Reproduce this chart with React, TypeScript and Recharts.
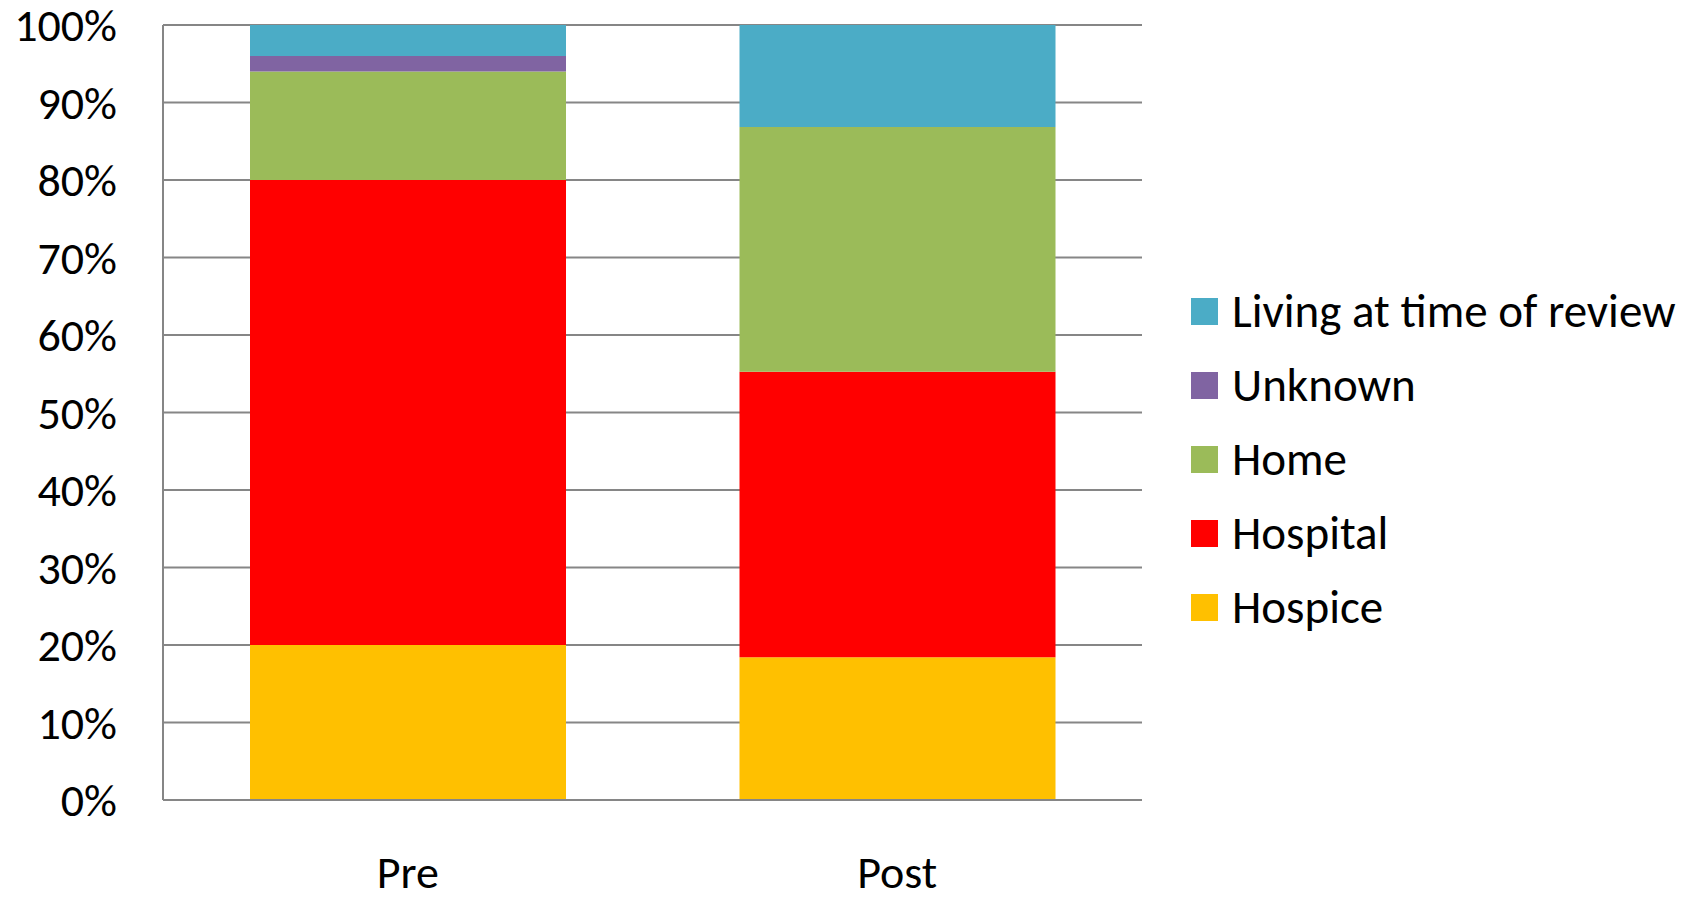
import React from 'react';
import { BarChart, Bar, XAxis, YAxis, CartesianGrid } from 'recharts';

const periods = ['Pre', 'Post'];
const hospice = [20, 18.42];
const hospital = [60, 36.84];
const home = [14, 31.58];
const unknown = [2, 0];
const living = [4, 13.16];
const yTicks = [0, 10, 20, 30, 40, 50, 60, 70, 80, 90, 100];

const series = [
  { key: 'hospice', name: 'Hospice', color: '#FFC000' },
  { key: 'hospital', name: 'Hospital', color: '#FF0000' },
  { key: 'home', name: 'Home', color: '#9BBB59' },
  { key: 'unknown', name: 'Unknown', color: '#8064A2' },
  { key: 'living', name: 'Living at time of review', color: '#4BACC6' },
];

const data = periods.map((p, i) => ({
  period: p,
  hospice: hospice[i],
  hospital: hospital[i],
  home: home[i],
  unknown: unknown[i],
  living: living[i],
}));

const FONT = 'Carlito, Lato, "Open Sans", sans-serif';
const GRID = '#868686';

function LegendBox() {
  // top entry first, same as the stack order seen from above
  const items = [...series].reverse();
  return (
    <div style={{ position: 'absolute', left: 1191, top: 274, fontFamily: FONT }}>
      {items.map((s) => (
        <div key={s.key} style={{ display: 'flex', alignItems: 'center', height: 74, whiteSpace: 'nowrap' }}>
          <span style={{ width: 27, height: 27, background: s.color, display: 'inline-block', marginRight: 14 }} />
          <span style={{ fontSize: 47, color: '#000', lineHeight: 1 }}>{s.name}</span>
        </div>
      ))}
    </div>
  );
}

export default function App() {
  return (
    <div style={{ position: 'fixed', left: 0, top: 0, width: 1704, height: 897, background: '#fff' }}>
      <BarChart
        width={1704}
        height={897}
        data={data}
        margin={{ top: 25, right: 562, left: 0, bottom: 0 }}
        barSize={316}
      >
        <CartesianGrid vertical={false} stroke={GRID} strokeWidth={2} />
        <XAxis
          dataKey="period"
          axisLine={{ stroke: GRID, strokeWidth: 2 }}
          tickLine={false}
          tickSize={0}
          tickMargin={55}
          height={97}
          tick={{ fill: '#000', fontSize: 46, fontFamily: FONT }}
        />
        <YAxis
          domain={[0, 100]}
          ticks={yTicks}
          width={163}
          interval={0}
          axisLine={{ stroke: GRID, strokeWidth: 2 }}
          tickLine={false}
          tickSize={0}
          tickMargin={46}
          tickFormatter={(v: number) => `${v}%`}
          tick={{ fill: '#000', fontSize: 46, fontFamily: FONT }}
        />
        {series.map((s) => (
          <Bar key={s.key} dataKey={s.key} name={s.name} stackId="a" fill={s.color} isAnimationActive={false} />
        ))}
      </BarChart>
      <LegendBox />
    </div>
  );
}
